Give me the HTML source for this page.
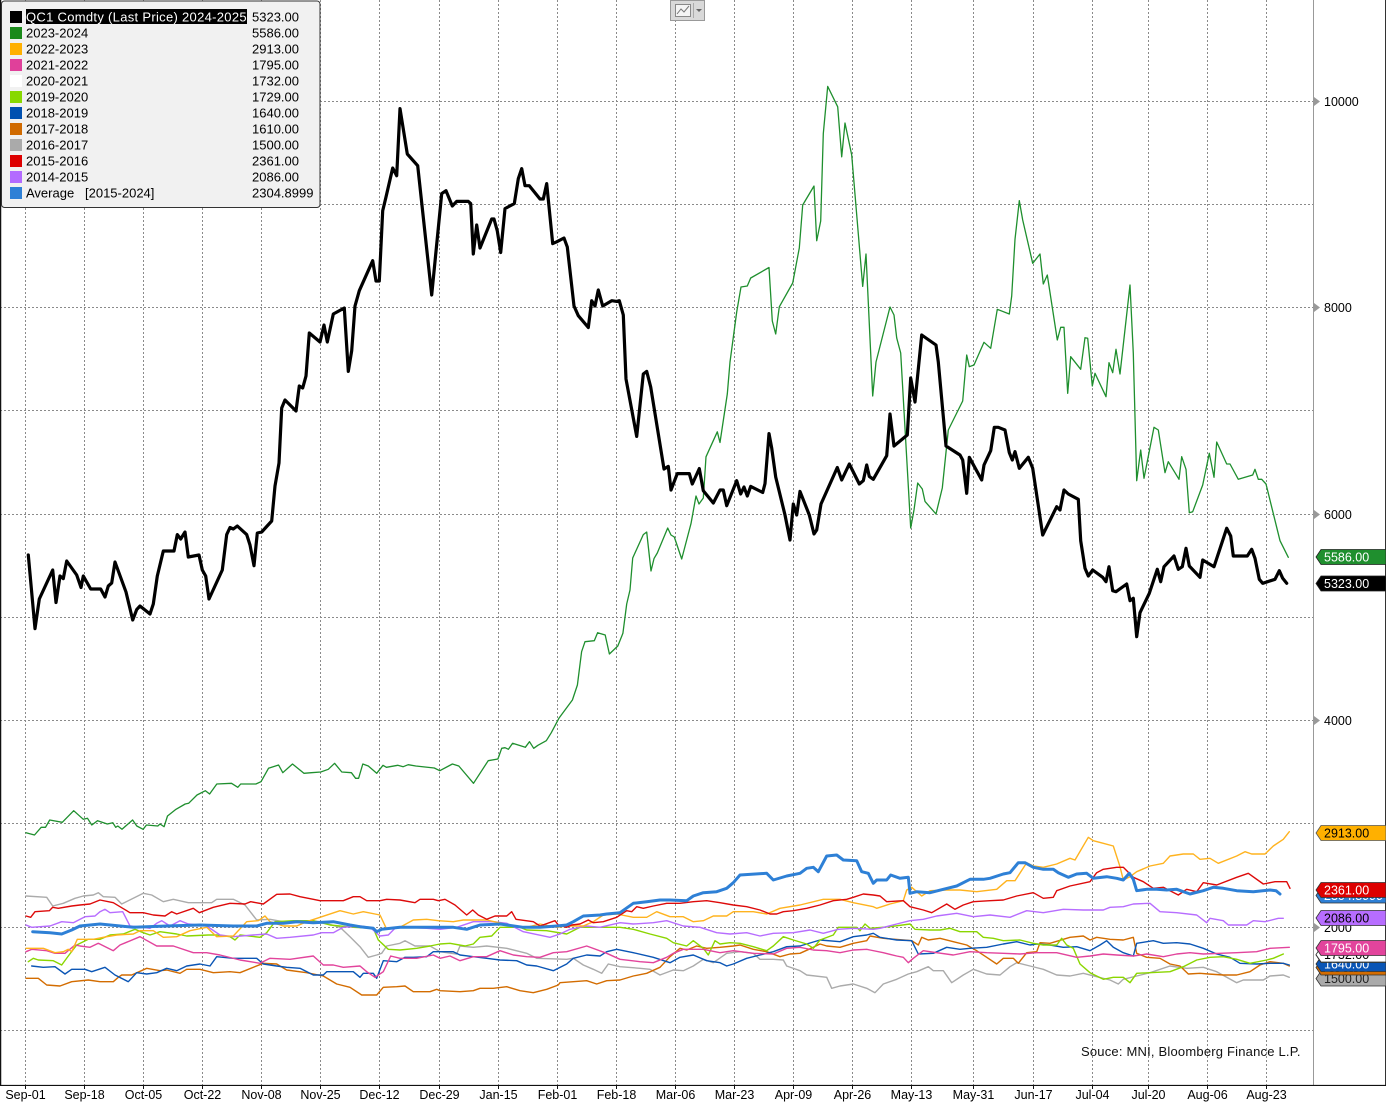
<!DOCTYPE html>
<html><head><meta charset="utf-8"><style>
html,body{margin:0;padding:0;background:#fff;}
svg{display:block;font-family:"Liberation Sans",Arial,sans-serif;}
</style></head><body>
<svg width="1386" height="1103" viewBox="0 0 1386 1103" xmlns="http://www.w3.org/2000/svg">
<rect x="0" y="0" width="1386" height="1103" fill="#fff"/>
<!-- grid -->
<g stroke="#8a8a8a" stroke-width="1" stroke-dasharray="2,2" fill="none">
<path d="M25.5 0V1085M84.5 0V1085M143.5 0V1085M202.5 0V1085M261.5 0V1085M320.5 0V1085M379.5 0V1085M439.5 0V1085M498.5 0V1085M557.5 0V1085M616.5 0V1085M675.5 0V1085M734.5 0V1085M793.5 0V1085M852.5 0V1085M911.5 0V1085M973.5 0V1085M1033.5 0V1085M1092.5 0V1085M1148.5 0V1085M1207.5 0V1085M1266.5 0V1085"/>
<path d="M0 101.5H1314M0 204.5H1314M0 307.5H1314M0 410.5H1314M0 514.5H1314M0 617.5H1314M0 720.5H1314M0 823.5H1314M0 927.5H1314M0 1030.5H1314"/>
</g>
<!-- series -->
<g fill="none" stroke-linejoin="round" stroke-linecap="round" stroke-width="1.4">
<polyline stroke="#ababab" points="26,896 46.7,897.3 52.7,906 63.3,903.3 75,898.3 83.3,896 93.3,895 98.3,892.7 103.3,896.7 115,897.3 121.7,904 143.3,893.3 151.7,895 163.3,901.7 173.3,899.3 188.3,902.7 211.7,902.7 216.7,899.3 233.3,899.3 245,905 256.7,920 270,919.3 283.3,921.7 311.7,920.7 320,921.7 340,927.3 350,936.7 360,946.7 368.3,957.3 376.7,955 381.7,953.3 386.7,946 400,943.3 405,940.7 415,946 430,946 440,951.7 456.7,954 460,946 473.3,947.3 486.7,946 506.7,948.3 526.7,953.3 536.7,958.3 566.7,959.3 573.3,958.3 583.3,965 593.3,969.3 601.7,973.3 608.3,964 620,966.7 640,968.3 650,969.3 660,975 673.3,970 683.3,970.7 693.3,966 703.3,959.3 713.3,962.7 726.7,953.3 740,951.7 753.3,953.3 760,959.3 773.3,959.3 783.3,960 786.7,966 800,970.7 806.7,975 826.7,977.3 831.7,988.3 840,986 853.3,984 866.7,988.3 875,992.7 883.3,984 896.7,979.3 908.3,974 916.7,971.7 928.3,966.7 933.3,970.7 943.3,970.7 951.7,982.7 963.3,975 973.3,969.3 986.7,974 1000,975 1010,966.7 1016.7,962.7 1030,966 1043.3,969.3 1056.7,975 1070,976 1083.3,973.3 1096.7,976.7 1110,980 1118.3,984 1123.3,979.3 1136.7,976 1150,972.7 1170,966 1186.7,968.3 1203.3,967.3 1216.7,971.7 1236.7,982.7 1243.3,980 1263.3,980 1270,976 1283.3,975 1289.3,977.3"/>
<polyline stroke="#d36c00" points="26,978.3 38.3,978.3 46.7,985 60,986 71.7,981.7 88.3,980 100,981.7 113.3,981.7 118.3,977.3 121.7,975 131.7,975 146.7,968.3 160,970.7 166.7,970 180,973.3 186.7,969.3 200,969.3 213.3,972.7 230,971.7 240,972.7 263.3,963.3 276.7,964 286.7,970 306.7,972.7 323.3,976 336.7,984 350,987.3 361.7,995 376.7,995 383.3,987.3 396.7,986.7 405,986 413.3,991.7 430,991.7 436.7,989.3 440,990.7 460,991.7 473.3,990.7 480,988.3 493.3,988.3 506.7,986.7 520,990.7 533.3,992.7 546.7,989.3 558.3,985 560,982.7 573.3,981.7 586.7,980.7 596.7,984 606.7,980.7 620,980 633.3,976 646.7,973.3 660,967.3 670,956.7 680,948.3 686.7,950 696.7,946 706.7,948.3 720,947.3 733.3,946 740,945 753.3,949.3 766.7,951.7 780,956.7 790,954 800,953.3 813.3,947.3 820,944 826.7,946 840,947.3 853.3,943.3 866.7,940.7 870,936 883.3,938.3 903.3,940 911.7,940.7 918.3,945 921.7,937.3 928.3,940 940,938.3 953.3,941.7 966.7,945 976.7,950.7 986.7,957.3 996.7,964 1003.3,958.3 1013.3,958.3 1018.3,963.3 1026.7,952.7 1036.7,951.7 1040,942.7 1050,943.3 1070,937.3 1083.3,936 1090,940 1096.7,937.3 1110,939.3 1123.3,940 1133.3,937.3 1136.7,953.3 1146.7,957.3 1160,958.3 1170,964 1180,966 1188.3,974 1200,973.3 1208.3,974 1223.3,975 1236.7,975 1250,971.7 1260,965 1270,961.7 1283.3,963.3 1289.3,966"/>
<polyline stroke="#0a55b5" points="31.7,966 43.3,967.3 55,966.7 65,974 71.7,969.3 85,969.3 91.7,971.7 105,967.3 115,975 128.3,981.7 136.7,972.7 146.7,974 156.7,972.7 166.7,968.3 176.7,970.7 186.7,966 200,964 210,966 216.7,956.7 233.3,958.3 256.7,958.3 263.3,964 276.7,966 286.7,967.3 300,968.3 313.3,975 323.3,975 326.7,971.7 353.3,971.7 360,977.3 363.3,973.3 373.3,973.3 376.7,978.3 383.3,960.7 396.7,961.7 405,957.3 413.3,957.3 426.7,956.7 433.3,951.7 440,951.7 453.3,951.7 460,955 473.3,956.7 486.7,958.3 500,960 516.7,960.7 526.7,965 536.7,966 553.3,970.7 566.7,964 573.3,958.3 586.7,955 600,956 606.7,951.7 616.7,949.3 633.3,952.7 653.3,957.3 670,962.7 680,957.3 693.3,955 706.7,960.7 720,962.7 726.7,966 733.3,964 746.7,958.3 760,955 773.3,951.7 786.7,946.7 800,946 806.7,944 820,940 840,941.7 853.3,936.7 866.7,935 873.3,933.3 880,937.3 896.7,940 911.7,940.7 918.3,954 933.3,953.3 946.7,947.3 960,949.3 970,948.3 986.7,947.3 1003.3,944 1016.7,941.7 1030,945 1036.7,944 1050,945 1063.3,947.3 1076.7,946.7 1090,950.7 1100,945 1106.7,940.7 1113.3,947.3 1123.3,952.7 1133.3,956 1136.7,943.3 1153.3,940.7 1163.3,943.3 1176.7,942.7 1190,944 1203.3,948.3 1216.7,954 1230,957.3 1240,963.3 1256.7,964 1270,963.3 1283.3,963.3 1289.3,965"/>
<polyline stroke="#8bd600" points="28.3,961.7 33.3,958.3 38.3,960 53.3,960.7 61.7,965 68.3,956 76.7,945 88.3,939.3 100,939.3 110,935 123.3,934 135,929.3 143.3,932.7 150,935 160,931.7 176.7,934 186.7,936 208.3,935 216.7,935 230,936.7 235,940 240,935 260,937.3 266.7,932.7 275,921.7 293.3,920.7 313.3,920.7 330,925 353.3,927.3 373.3,928.3 378.3,940 388.3,949.3 400,950 416.7,948.3 430,946 440,944 450,943.3 465,946 473.3,944 480,937.3 491.7,936 500,927.3 520,927.3 526.7,930 546.7,930.7 566.7,934 580,927.3 596.7,927.3 620,927.3 633.3,929.3 650,934 666.7,938.3 673.3,942.7 686.7,946 693.3,940.7 703.3,948.3 708.3,955 715,940.7 720,944 730,942.7 740,943.3 753.3,946.7 766.7,950.7 773.3,946 783.3,936.7 793.3,940 806.7,944 813.3,948.3 820,940 833.3,935 838.3,927.3 856.7,927.3 860,930.7 865,924 870,928.3 890,926.7 910,924 915,929.3 930,930 940,930 950,928.3 960,931.7 976.7,931.7 983.3,937.3 993.3,938.3 1003.3,940.7 1020,940 1033.3,943.3 1043.3,945 1056.7,945 1061.7,938.3 1066.7,945 1073.3,948.3 1080,964 1090,972.7 1103.3,979.3 1113.3,977.3 1123.3,977.3 1130,982.7 1136.7,973.3 1150,972.7 1170,971.7 1183.3,966.7 1196.7,960 1210,957.3 1223.3,956.7 1236.7,959.3 1250,963.3 1266.7,960 1273.3,958.3 1283.3,954"/>
<polyline stroke="#e2449c" points="26,951.7 31.7,949.3 46.7,950.7 55,953.3 65,953.3 75,945 80,946 90,947.3 98.3,943.3 113.3,950.7 120,945 140,936.7 156.7,946 173.3,946 193.3,952.7 206.7,952.7 220,955 240,960 260,963.3 270,958.3 290,959.3 313.3,956 323.3,965 333.3,965 343.3,967.3 360,966 366.7,971.7 375,977.3 383.3,971.7 390.7,956 400,958.3 416.7,958.3 433.3,955 440,958.3 450,956 460,960.7 473.3,956.7 486.7,956.7 500,950.7 513.3,955 526.7,956.7 540,957.3 553.3,952.7 566.7,951.7 586.7,946 606.7,953.3 620,959.3 640,961.7 653.3,962.7 666.7,957.3 673.3,953.3 683.3,949.3 703.3,949.3 720,952.7 733.3,950.7 753.3,953.3 773.3,954 786.7,948.3 800,947.3 813.3,950 826.7,950.7 840,952.7 853.3,950 866.7,949.3 870,950 883.3,952.7 896.7,956 903.3,957.3 908.3,962.7 913.3,958.3 923.3,950.7 936.7,952.7 953.3,955 970,951.7 986.7,952.7 1003.3,953.3 1020,954 1036.7,952.7 1056.7,952.7 1076.7,957.3 1090,956 1103.3,954 1116.7,955 1133.3,956 1146.7,954 1163.3,956.7 1176.7,954 1190,952.7 1203.3,954 1220,953.3 1236.7,952.7 1256.7,951.7 1270,948.3 1289.3,947.3"/>
<polyline stroke="#b76dff" points="26,925 31.7,927.3 50,926 61.7,921.7 73.3,922.7 85,916.7 95,916 100,911.7 105,909.3 110,912.7 122.7,911.7 130,926 143.3,927.3 150,928.3 156.7,923.3 161.7,920.7 170,926 180,920.7 188.3,924 206.7,926 220,935 233.3,936.7 253.3,935 266.7,934 276.7,938.3 290,937.3 313.3,935 321.7,932.7 333.3,932.7 343.3,927.3 360,926 370,927.3 380,936 388.3,935 395,928.3 406.7,927.3 426.7,928.3 440,929.3 456.7,927.3 473.3,921.7 493.3,921.7 506.7,923.3 523.3,931.7 550,937.3 560,934 570,929.3 586.7,926 600,927.3 620,922.7 633.3,924 653.3,922.7 666.7,920.7 683.3,926 700,927.3 716.7,932.7 730,934 746.7,932.7 760,936 773.3,933.3 793.3,932.7 810,930 823.3,933.3 838.3,929.3 853.3,928.3 873.3,929.3 880,928.3 896.7,924 910,920.7 923.3,919.3 936.7,916 956.7,913.3 973.3,916.7 990,915 1010,917.3 1026.7,910.7 1043.3,912.7 1063.3,909.3 1083.3,910 1103.3,910 1110,907.3 1123.3,906.7 1133.3,904 1150,903.3 1160,911.7 1176.7,912.7 1196.7,915 1206.7,922.7 1210,918.3 1223.3,920.7 1228.3,925 1246.7,925 1253.3,920.7 1265,921.7 1278.3,918.3 1283.3,918.3"/>
<polyline stroke="#ffb31f" points="26,948.3 43.3,948.3 55,952.7 63.3,951.7 68.3,949.3 71.7,951.7 77.3,939.3 93.3,939.3 103.3,937.3 116.7,935 133.3,934 140,930.7 153.3,930.7 163.3,937.3 176.7,936.7 190,930.7 206.7,927.3 216.7,936.7 233.3,936 246.7,921.7 258.3,920.7 265,916 270,921.7 283.3,926 296.7,926 306.7,921.7 320,917.3 340,910.7 353.3,914 363.3,911.7 380,915 386.7,929.3 400,927.3 413.3,920 426.7,919.3 438.3,920.7 453.3,921.7 463.3,920 486.7,920 513.3,926 526.7,927.3 540,924 556.7,927.3 566.7,926 583.3,926 593.3,921.7 603.3,915 616.7,914 633.3,917.3 646.7,917.3 656.7,911.7 670,916.7 683.3,916.7 693.3,921.7 703.3,920.7 713.3,916 726.7,916 733.3,911.7 753.3,911.7 766.7,914 780,908.3 800,905 823.3,899.3 840,899.3 853.3,902.7 873.3,906.7 876.7,908.3 890,904 903.3,900.7 906.7,890 911.7,887.3 921.7,896 930,890.7 946.7,890 960,890 976.7,891.7 996.7,889.3 1006.7,880.7 1015,880.7 1026.7,862.7 1033.3,866 1043.3,867.3 1056.7,864 1070,858.3 1075,860 1088.3,837.3 1093.3,840.7 1103.3,843.3 1113.3,846 1120,866.7 1123.3,880 1130,876.7 1136.7,871.7 1150,866 1163.3,863.3 1170,856 1183.3,854 1193.3,854 1200,859.3 1210,858.3 1218.3,863.3 1236.7,856 1245,851.7 1251.7,854 1265,854 1273.3,846 1283.3,839.3 1289.3,831.7"/>
<polyline stroke="#dd0a0a" points="26,916 30.7,917.3 35,911.7 49.3,910.7 52.7,907.3 58.3,908.3 71.7,906 80,905 90,904 100,900 113.3,902.7 122.7,908.3 130,912.7 143.3,912.7 153.3,915 165,916 171.7,911.7 176.7,914 193.3,908.3 199.3,912.7 213.3,907.3 230,903.3 245,904 250.7,901.7 263.3,904 276.7,894.3 290,894 300,896.7 313.3,899.3 320,900.7 343.3,900.7 353.3,896.7 360,896.7 366.7,900.7 380,900.7 386.7,899.3 400,900 415,902.7 420,899.3 433.3,899.3 438.3,900.7 445,899.3 455,905 466.7,915 472.7,910 478.3,915 486.7,919.3 495,916 506.7,916 511.7,911.7 516,919.3 533.3,921.7 540,926 555,920.7 558.3,925 566.7,927.3 571.7,925 580,924 588.3,920 593.3,922.7 603.3,921.7 616.7,917.3 626.7,910.7 631.7,911.7 636.7,906.7 643.3,908.3 653.3,906 666.7,903.3 680,903.3 693.3,901.7 706.7,900.7 720,902.7 733.3,905 746.7,906.7 760,910 770,914 776.7,914 783.3,911.7 793.3,910.7 806.7,908.3 820,905 833.3,900.7 846.7,899.3 853.3,897.3 863.3,894 873.3,895 880,896 886.7,901.7 903.3,900.7 910,906.7 923.3,910 931.7,912.7 946.7,904 955,909.3 963.3,905 973.3,901.7 990,900.7 1003.3,900 1016.7,896 1033.3,892.7 1043.3,898.3 1053.3,897.3 1056.7,890.7 1070,886 1090,881.7 1096.7,872.7 1103.3,869.3 1116.7,867.3 1123.3,867.3 1133.3,877.3 1143.3,881.7 1153.3,888.3 1163.3,887.3 1178.3,895 1186.7,889.3 1196.7,891.7 1203.3,882.7 1216.7,885 1236.7,877.3 1248.3,873.3 1263.3,884 1275,881.7 1286.7,881.7 1290,888.3"/>
<polyline stroke="#2e80d6" stroke-width="3" points="32.7,931.7 50,932.7 61.7,934 71.7,930 80,926 100,924 133.3,927.3 166.7,926 200,925 233.3,926 256.7,926 266.7,923.3 283.3,923.3 296.7,921.7 313.3,922.7 333.3,921.7 350,925 360,926.7 373.3,928.3 376.7,931.7 381.7,929.3 400,927.3 426.7,927.3 440,927.3 453.3,927.3 466.7,929.3 480,925 500,924 523.3,927.3 540,927.3 556.7,926 566.7,925 573.3,921.7 583.3,916 600,915 606.7,914 620,912.7 633.3,903.3 646.7,901.7 660,900 670,900 686.7,900.7 693.3,896 703.3,892.7 716.7,891.7 726.7,888.3 733.3,882.7 740,875 766.7,873.3 773.3,880 786.7,876 800,873.3 806.7,868.3 813.3,867.3 818.3,871.7 826.7,856 836.7,855 843.3,860 856.7,860.7 861.7,871.7 868.3,873.3 873.3,883.3 876.7,880 886.7,880 890.7,875 900,878.3 908.3,877.3 910,893.3 916.7,891.7 930,892.7 943.3,889.3 956.7,886 970,879.3 983.3,879.3 990,878.3 1003.3,874 1010,872.7 1018.3,862.7 1025,862.7 1033.3,867.3 1043.3,869.3 1053.3,869.3 1058.3,872.7 1068.3,877.3 1076.7,874 1086.7,873.3 1093.3,878.3 1106.7,876.7 1116.7,878.3 1123.3,880 1129.3,873.3 1133.3,879.3 1136.7,890.7 1146.7,889.3 1156.7,889.3 1166.7,890 1176.7,889.3 1190,894 1203.3,890.7 1213.3,887.3 1223.3,888.3 1236.7,890.7 1253.3,891.7 1270,890 1276,890.7 1280,894"/>
<polyline stroke="#1f8f2e" stroke-width="1.3" points="26,832.7 34.5,835 41.2,827.3 45.5,827.3 49.7,820 62.3,822.3 73.7,810.7 83.3,819.3 87.5,818.3 91.8,825 97.6,820.7 107.3,824 112.8,822.7 115.7,827.3 117.8,826 122,829.3 132.6,820 136.8,826 143.1,829.3 146.5,825 157.8,826 160,824 164.1,826.7 167.5,816 176,809.3 185.2,804 188.6,803.3 197,795 205.4,790.7 209.6,794 216.8,784 231.5,783.3 237.8,787.3 240.7,784 255.9,784 261,781.7 268.5,768.3 278.6,765 282.8,772.7 292.5,764 303.9,773.3 311.4,772.7 320.7,772 328.3,769.3 334.6,763.3 341.8,772 351.4,772.7 355.6,778.3 358.6,778.3 362.8,764 368.3,766 376.7,773.3 383,765.3 386.4,767.3 397.7,765.3 403.2,766.7 408.2,764.7 415.8,766 434.3,768 439.8,770.7 452.4,764 458.8,766 473.5,783.3 488.2,760.7 497.9,759 501.7,748.3 505,747.7 508.4,749.3 512.6,743.3 525.3,747.3 529.5,741.7 533.7,748.3 537.9,745.3 546.3,740.7 551.3,732.7 558.9,718.3 572.4,700 577.4,685 581.6,651.7 585,641.7 594.3,640.7 597.6,632.7 605.2,635 609.4,654 617.8,646 622.9,633.3 626.7,604 630,590 632.7,558 643.3,534.6 646.7,532 651,571 654,558.6 657.3,553 667.7,528 671,535 674.3,537 681.7,559 691,523.6 696,496 699,504 703.3,498 706,456.8 717.3,431.8 720,442.5 727.3,394 730,362 736.7,312 741,287 747.3,286 750.7,278 769,267.5 772.3,321 775.7,334 779.3,306.8 792.7,283 799.3,248 802.7,205 814,186 816.7,240.7 820.7,221 823.3,133.6 827.7,86.4 837.7,106.8 841.7,156.8 845,123 851.7,155 862.7,286.4 866,254 872.7,396 876,362 890,307 894,315 896.7,337.9 900.7,353 910.7,528 914,510 917.7,483 922.3,489 925,501.4 936,514 942.3,488 948.3,430 962.7,401 966.7,355 969.3,366.7 974,365 984,342.3 990.7,348.3 997.3,309.3 1009.3,314 1011.7,296 1015,239.3 1019.3,200.7 1022.7,220 1032.7,263.3 1040,254 1043.3,284 1047.3,275 1057.3,340 1060.7,327.3 1064,327.3 1067.7,393.3 1070.7,356.7 1080.7,369.3 1085,337.7 1087.7,338.3 1092.3,386 1095,373.3 1106,396.7 1109,362.7 1112.7,372.7 1116,349.3 1120,374 1130,285 1133.3,353.3 1136.7,480.7 1140.7,450 1144,478.3 1154,427.3 1158.3,430 1165,472.7 1168.3,461.7 1179,479.3 1181.7,456.7 1186,469.3 1189.3,512.7 1192.7,511.7 1202.7,485 1209.3,453.3 1214,477.3 1216.7,442 1226.7,464 1230,464 1238.3,479.3 1252.7,475 1255,469.3 1258.3,479.3 1261.7,479.3 1266,484 1280,540.7 1288.3,557.3"/>
<polyline stroke="#000" stroke-width="3.2" points="28.3,555 35,628.6 39.3,599 52.7,570 56,602.5 60,576 63.3,578.6 66.7,561 76.7,575 81,587.5 83.3,576 90.7,589 100.7,589 105,597 108.3,586 111.7,583 115,562 126,592 132.7,620 136.7,609.6 140,606 150,614 153.3,604 157.3,576 163.3,551 174,551 177.3,534.6 180.7,539 185,532 188.3,557 199,555 202.3,570 205.7,576 209,599 222.3,570 226.7,534.6 230,527.5 233.3,529 237.3,526 246.7,534.6 250,545 254,565.7 257.3,533 261.7,532 271.7,521 275,486 279,463 281.7,408 285,400 296,411 299.3,386 302.7,388 306,376 309.3,333 320,342 324,325 327.3,342 333.3,314 344.3,308 348.3,371.4 351.7,350.7 355,306 359.3,290.7 372.7,260.7 376,281 379.3,281 382.7,210.7 386,197 392.7,168 396.7,175.7 400,108.6 407.3,154 417.7,165.7 431.7,295 441.7,193.6 446,190.7 452.3,206 456.7,201.4 468.3,201.4 470.7,203.6 473.3,254 476.7,225 480,248 491.7,219 494,219 497.3,231 500.7,252.5 505,208.6 514.3,203.6 518.3,178.6 521.7,168.6 525,185.7 529.3,185.7 540,199 543.3,199 546.7,183.6 552.7,243.6 556.7,241.8 564,238 567.3,247 574,306 578.3,315.7 588.3,327.5 591.7,300.7 595,306 598.3,290 602.7,306 611.7,300.7 616.7,301.4 619.3,300.7 623.3,315 626,379 636.7,436.4 643.3,374 646.7,371.4 650.7,387 664,469 668.3,466.4 671,490 677.3,473.6 689.3,473.6 692.3,484 699.3,468.6 703.3,490.7 713.3,503 720,490 723.3,490 726.7,505.7 736.7,480.7 740.7,494 744,487 747.3,496 750.7,486.4 762.7,492.5 765,483.6 769,433.6 771.7,448 775.7,477 785,515 790,540 793.3,504 796.7,515 800,491.4 809.3,515 814,534 816.7,530 821,504 837.3,467.5 841.7,480 849.3,464 859.3,484 863.3,480.7 866.7,465 869.3,476.4 873.3,479.3 886.7,455.7 890,414 894,446 907.3,435 910.7,378 915,402 921.7,335 936,345 938.3,362 946,446 960,455 962.7,460 966.7,493.3 969.3,457.3 981.7,480 984,465 990.7,450.7 994.3,427.3 998.3,427.3 1005,430 1009.3,452.7 1012.3,460 1015,451.7 1019.3,468.3 1028.3,457.3 1032.7,468.3 1042.7,535 1056.7,506.7 1060,510 1064,490 1068.3,494 1078.3,499.3 1080.7,540.7 1085,568.3 1088.3,576 1092.7,570 1102.7,577.3 1106,581.7 1109,566.7 1112.7,590.7 1116,591.7 1126.7,584 1130,600.7 1133.3,598.3 1136.7,636.7 1140,612.7 1149.3,593.3 1157.3,569.3 1160.7,581.7 1164,566.7 1174,556 1178.3,569.3 1182.3,566.7 1186,548.3 1189.3,566 1200,577.3 1202.7,560 1214,566.7 1226.7,528.3 1230.7,536 1233.3,556 1247.3,556 1251.7,549.3 1255,558.3 1259.3,579.3 1262.7,583.3 1275,579.3 1279.3,570.7 1282.7,578.3 1286.7,583.3"/>
</g>
<!-- right panel -->
<rect x="1314" y="0" width="72" height="1085" fill="#fff"/>
<line x1="1313.5" y1="0" x2="1313.5" y2="1085" stroke="#999" stroke-width="1"/>
<line x1="1385.5" y1="0" x2="1385.5" y2="1103" stroke="#333" stroke-width="1"/>
<line x1="0.5" y1="0" x2="0.5" y2="1085" stroke="#111" stroke-width="1.5"/>
<g fill="#999">
<polygon points="1314,97 1320,101.5 1314,106"/>
<polygon points="1314,303 1320,307.5 1314,312"/>
<polygon points="1314,510 1320,514.5 1314,519"/>
<polygon points="1314,716 1320,720.5 1314,725"/>
<polygon points="1314,923 1320,927.5 1314,932"/>
</g>
<g font-size="12.5" fill="#000">
<text x="1324" y="106">10000</text>
<text x="1324" y="312">8000</text>
<text x="1324" y="519">6000</text>
<text x="1324" y="725">4000</text>
<text x="1324" y="932">2000</text>
</g>
<!-- value labels -->
<g font-size="12.5" stroke-width="0.8">
<g><polygon points="1316,833 1321,825.5 1386,825.5 1386,840.5 1321,840.5" fill="#ffb000" stroke="#555"/><text x="1324" y="837.5" fill="#000">2913.00</text></g>
<g><polygon points="1316,895.5 1321,888 1386,888 1386,903 1321,903" fill="#2e80d6" stroke="#333"/><text x="1324" y="900" fill="#fff">2304.8999</text></g>
<g><polygon points="1316,890 1321,882.5 1386,882.5 1386,897.5 1321,897.5" fill="#dd0000" stroke="#333"/><text x="1324" y="894.5" fill="#fff">2361.00</text></g>
<g><polygon points="1316,918 1321,910.5 1386,910.5 1386,925.5 1321,925.5" fill="#b76dff" stroke="#333"/><text x="1324" y="922.5" fill="#000">2086.00</text></g>
<g><polygon points="1316,978.6 1321,971 1386,971 1386,986 1321,986" fill="#aaa" stroke="#333"/><text x="1324" y="983" fill="#222">1500.00</text></g>
<g><polygon points="1316,967.5 1321,960 1386,960 1386,975 1321,975" fill="#d36c00" stroke="#333"/><text x="1324" y="972" fill="#fff">1610.00</text></g>
<g><polygon points="1316,964 1321,956.5 1386,956.5 1386,971.5 1321,971.5" fill="#0a55b5" stroke="#333"/><text x="1324" y="968.5" fill="#fff">1640.00</text></g>
<g><polygon points="1316,955 1321,947.5 1386,947.5 1386,962.5 1321,962.5" fill="#8bd600" stroke="#333"/><text x="1324" y="959.5" fill="#000">1729.00</text></g>
<g><polygon points="1316,954.6 1321,947 1386,947 1386,962 1321,962" fill="#fff" stroke="#333"/><text x="1324" y="959" fill="#000">1732.00</text></g>
<g><polygon points="1316,948 1321,940.5 1386,940.5 1386,955.5 1321,955.5" fill="#e2449c" stroke="#333"/><text x="1324" y="952.5" fill="#fff">1795.00</text></g>
<g><polygon points="1316,557 1321,549.5 1386,549.5 1386,564.5 1321,564.5" fill="#1f8f2e" stroke="#222"/><text x="1324" y="561.5" fill="#fff">5586.00</text></g>
<g><polygon points="1316,583.5 1321,576 1386,576 1386,591 1321,591" fill="#000" stroke="#222"/><text x="1324" y="588" fill="#fff">5323.00</text></g>
</g>
<!-- bottom axis -->
<line x1="0" y1="1085.5" x2="1386" y2="1085.5" stroke="#111" stroke-width="1.2"/>
<rect x="0" y="1086" width="1386" height="17" fill="#fff"/>
<g stroke="#111" stroke-width="1">
<path d="M25.5 1085V1089M84.5 1085V1089M143.5 1085V1089M202.5 1085V1089M261.5 1085V1089M320.5 1085V1089M379.5 1085V1089M439.5 1085V1089M498.5 1085V1089M557.5 1085V1089M616.5 1085V1089M675.5 1085V1089M734.5 1085V1089M793.5 1085V1089M852.5 1085V1089M911.5 1085V1089M973.5 1085V1089M1033.5 1085V1089M1092.5 1085V1089M1148.5 1085V1089M1207.5 1085V1089M1266.5 1085V1089"/>
</g>
<g font-size="12.5" fill="#000" text-anchor="middle">
<text x="25.5" y="1099">Sep-01</text><text x="84.5" y="1099">Sep-18</text><text x="143.5" y="1099">Oct-05</text><text x="202.5" y="1099">Oct-22</text><text x="261.5" y="1099">Nov-08</text><text x="320.5" y="1099">Nov-25</text><text x="379.5" y="1099">Dec-12</text><text x="439.5" y="1099">Dec-29</text><text x="498.5" y="1099">Jan-15</text><text x="557.5" y="1099">Feb-01</text><text x="616.5" y="1099">Feb-18</text><text x="675.5" y="1099">Mar-06</text><text x="734.5" y="1099">Mar-23</text><text x="793.5" y="1099">Apr-09</text><text x="852.5" y="1099">Apr-26</text><text x="911.5" y="1099">May-13</text><text x="973.5" y="1099">May-31</text><text x="1033.5" y="1099">Jun-17</text><text x="1092.5" y="1099">Jul-04</text><text x="1148.5" y="1099">Jul-20</text><text x="1207.5" y="1099">Aug-06</text><text x="1266.5" y="1099">Aug-23</text>
</g>
<text x="1081" y="1056" font-size="13" fill="#111" letter-spacing="0.2">Souce: MNI, Bloomberg Finance L.P.</text>
<!-- top icon -->
<g>
<rect x="670.5" y="0.5" width="34" height="20" fill="#d9d9d9" stroke="#999"/>
<rect x="675.5" y="4.5" width="15" height="12" fill="#f4f4f4" stroke="#888"/>
<polyline points="677,14 681,9 684,12 689,6" fill="none" stroke="#777" stroke-width="1"/>
<line x1="693.5" y1="3" x2="693.5" y2="18" stroke="#aaa"/>
<polygon points="696,9 702,9 699,12" fill="#666"/>
</g>
<!-- legend -->
<g>
<rect x="1.5" y="1" width="318.5" height="206.5" rx="3" ry="3" fill="#f1f1f1" stroke="#333" stroke-width="1"/>
<rect x="26" y="9" width="221" height="15" fill="#000"/>
<g font-size="13">
<rect x="10" y="11" width="12" height="12" fill="#000"/><text x="26" y="21.5" fill="#fff" letter-spacing="0.3">QC1 Comdty (Last Price) 2024-2025</text><text x="252" y="21.5" fill="#000">5323.00</text>
<rect x="10" y="27" width="12" height="12" fill="#1a8a1a"/><text x="26" y="37.5" fill="#000">2023-2024</text><text x="252" y="37.5" fill="#000">5586.00</text>
<rect x="10" y="43" width="12" height="12" fill="#ffb000"/><text x="26" y="53.5" fill="#000">2022-2023</text><text x="252" y="53.5" fill="#000">2913.00</text>
<rect x="10" y="59" width="12" height="12" fill="#e0409a"/><text x="26" y="69.5" fill="#000">2021-2022</text><text x="252" y="69.5" fill="#000">1795.00</text>
<rect x="10" y="75" width="12" height="12" fill="#fff"/><text x="26" y="85.5" fill="#000">2020-2021</text><text x="252" y="85.5" fill="#000">1732.00</text>
<rect x="10" y="91" width="12" height="12" fill="#88d800"/><text x="26" y="101.5" fill="#000">2019-2020</text><text x="252" y="101.5" fill="#000">1729.00</text>
<rect x="10" y="107" width="12" height="12" fill="#0050b0"/><text x="26" y="117.5" fill="#000">2018-2019</text><text x="252" y="117.5" fill="#000">1640.00</text>
<rect x="10" y="123" width="12" height="12" fill="#d06a00"/><text x="26" y="133.5" fill="#000">2017-2018</text><text x="252" y="133.5" fill="#000">1610.00</text>
<rect x="10" y="139" width="12" height="12" fill="#aaaaaa"/><text x="26" y="149.5" fill="#000">2016-2017</text><text x="252" y="149.5" fill="#000">1500.00</text>
<rect x="10" y="155" width="12" height="12" fill="#dd0000"/><text x="26" y="165.5" fill="#000">2015-2016</text><text x="252" y="165.5" fill="#000">2361.00</text>
<rect x="10" y="171" width="12" height="12" fill="#b36bff"/><text x="26" y="181.5" fill="#000">2014-2015</text><text x="252" y="181.5" fill="#000">2086.00</text>
<rect x="10" y="187" width="12" height="12" fill="#2e80d6"/><text x="26" y="197.5" fill="#000">Average</text><text x="85" y="197.5" fill="#000">[2015-2024]</text><text x="252" y="197.5" fill="#000">2304.8999</text>
</g>
</g>
</svg>
</body></html>
